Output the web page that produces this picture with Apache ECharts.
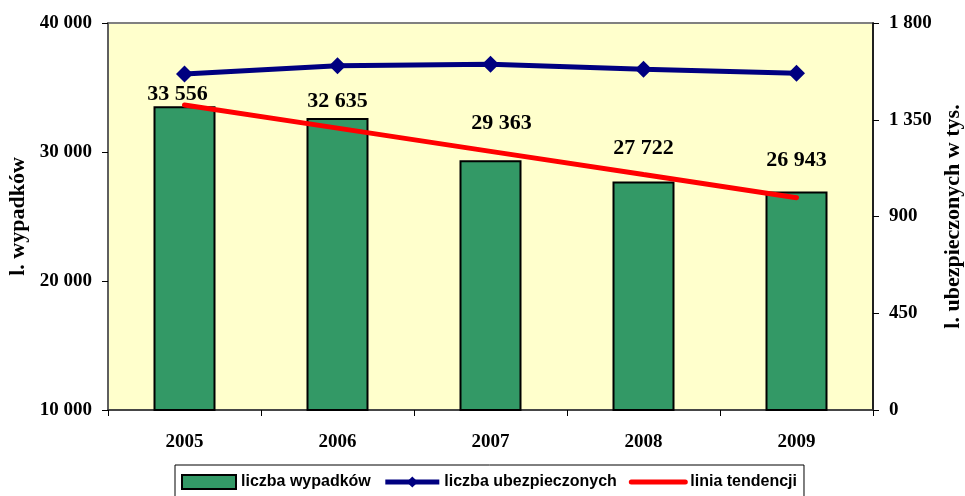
<!DOCTYPE html>
<html>
<head>
<meta charset="utf-8">
<script src="https://cdn.jsdelivr.net/npm/echarts@6/dist/echarts.min.js"></script>
<style>
html,body{margin:0;padding:0;background:#fff;}
#c{width:965px;height:496px;}
</style>
</head>
<body>
<div id="c"></div>
<script>
// ---- data ----
const years = ['2005', '2006', '2007', '2008', '2009'];
const accidents = [33556, 32635, 29363, 27722, 26943];          // liczba wypadków
const insured = [1563, 1601, 1608, 1585, 1566];                 // liczba ubezpieczonych (tys.)
const trend = [33650, 31850, 30050, 28250, 26460];              // linia tendencji
const leftTicks = { min: 10000, max: 40000, step: 10000 };
const rightTicks = { min: 0, max: 1800, step: 450 };
const seriesNames = ['liczba wypadków', 'liczba ubezpieczonych', 'linia tendencji'];

// ---- layout of the value labels (as placed in the original) ----
const labelDx = [-7, 0, 11, 0, 0];
const labelDy = [1, -4, -24, -20, -18];

function fmt(v) {
  return String(v).replace(/\B(?=(\d{3})+(?!\d))/g, ' ');
}

const serif = '"Liberation Serif", "Times New Roman", serif';
const sans = '"Liberation Sans", Arial, sans-serif';

const chart = echarts.init(document.getElementById('c'), null, { renderer: 'canvas' });
chart.setOption({
  animation: false,
  backgroundColor: '#ffffff',
  grid: {
    left: 108, right: 92, top: 23, bottom: 86,
    containLabel: false,
    outerBoundsMode: 'none',
    show: true, backgroundColor: '#FFFFCC', borderColor: '#808080', borderWidth: 2
  },
  legend: {
    left: 175, top: 465,
    padding: [9, 7, 9, 6],
    itemGap: 12,
    itemWidth: 54, itemHeight: 14,
    borderColor: '#000', borderWidth: 1,
    lineStyle: { width: 5 },
    textStyle: { fontFamily: sans, fontSize: 16, fontWeight: 'bold', color: '#000' },
    data: [
      { name: seriesNames[0], icon: 'rect' },
      { name: seriesNames[1] },
      { name: seriesNames[2], itemStyle: { opacity: 0 } }
    ]
  },
  xAxis: {
    type: 'category',
    data: years,
    axisLine: { lineStyle: { color: '#333', width: 1.5 } },
    axisTick: { show: true, length: 6, lineStyle: { color: '#000' } },
    axisLabel: { margin: 23, color: '#000', fontFamily: serif, fontSize: 19, fontWeight: 'bold' }
  },
  yAxis: [{
    type: 'value',
    min: leftTicks.min, max: leftTicks.max, interval: leftTicks.step,
    name: 'l. wypadków',
    nameLocation: 'middle', nameGap: 78,
    nameTextStyle: { fontFamily: serif, fontSize: 22, fontWeight: 'bold', color: '#000' },
    splitLine: { show: false },
    axisLine: { show: true, lineStyle: { color: '#555', width: 1.5 } },
    axisTick: { show: true, length: 6, lineStyle: { color: '#000' } },
    axisLabel: { margin: 16, color: '#000', fontFamily: serif, fontSize: 19, fontWeight: 'bold', formatter: fmt }
  }, {
    type: 'value',
    position: 'right',
    min: rightTicks.min, max: rightTicks.max, interval: rightTicks.step,
    name: 'l. ubezpieczonych w tys.',
    nameLocation: 'middle', nameGap: 69,
    nameRotate: 90,
    nameTextStyle: { fontFamily: serif, fontSize: 22, fontWeight: 'bold', color: '#000' },
    splitLine: { show: false },
    axisLine: { show: true, lineStyle: { color: '#000', width: 1.5 } },
    axisTick: { show: true, length: 6, lineStyle: { color: '#000' } },
    axisLabel: { margin: 16, color: '#000', fontFamily: serif, fontSize: 19, fontWeight: 'bold', formatter: fmt }
  }],
  series: [{
    name: seriesNames[0],
    type: 'bar',
    yAxisIndex: 0,
    barWidth: 62,
    itemStyle: { color: '#339966', borderColor: '#000', borderWidth: 2 },
    label: {
      show: true, position: 'top', distance: 2,
      color: '#000', fontFamily: serif, fontSize: 22, fontWeight: 'bold',
      formatter: p => fmt(p.value)
    },
    data: accidents.map((v, i) => ({ value: v, label: { offset: [labelDx[i], labelDy[i]] } })),
    z: 2
  }, {
    name: seriesNames[1],
    type: 'line',
    yAxisIndex: 1,
    symbol: 'diamond', symbolSize: 17,
    lineStyle: { color: '#000080', width: 5 },
    itemStyle: { color: '#000080' },
    data: insured,
    z: 4
  }, {
    name: seriesNames[2],
    type: 'line',
    yAxisIndex: 0,
    symbol: 'circle',
    showSymbol: false,
    lineStyle: { color: '#FF0000', width: 5, cap: 'round' },
    itemStyle: { color: '#FF0000' },
    data: trend,
    z: 5
  }]
});
</script>
</body>
</html>
